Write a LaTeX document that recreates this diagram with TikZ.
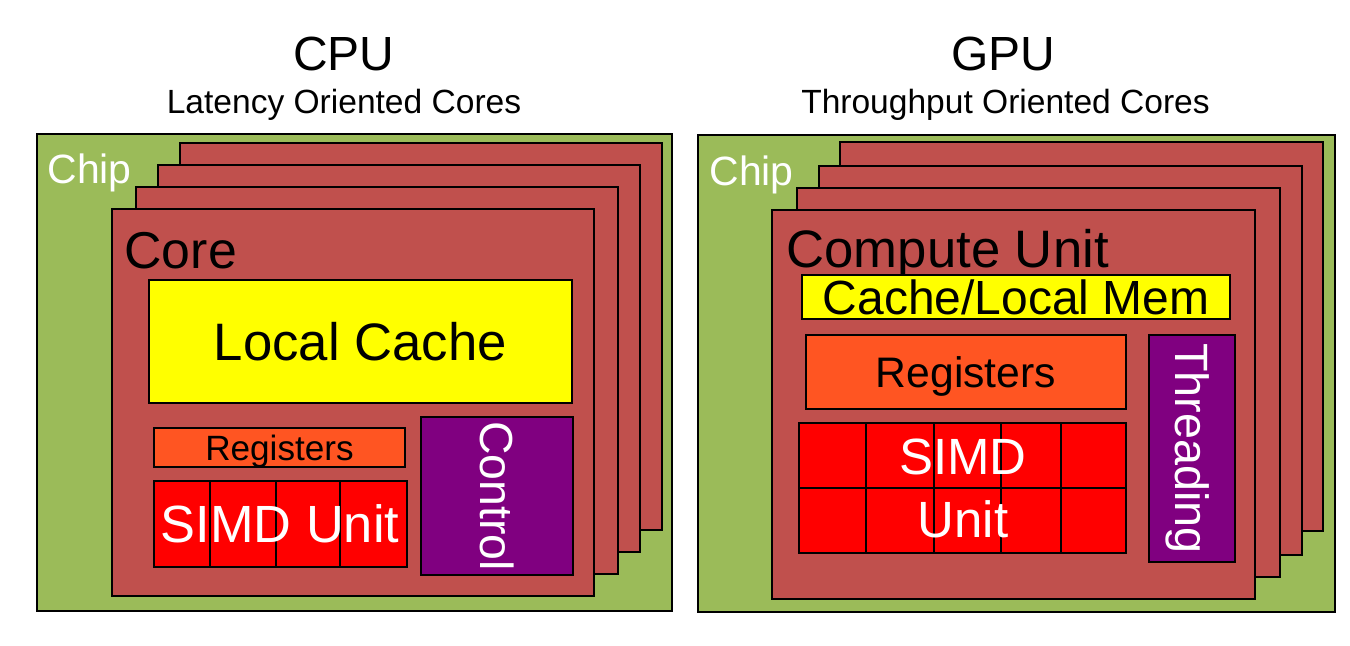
\documentclass[tikz,border=0pt]{standalone}
\usepackage{fontspec}
\setmainfont{Liberation Sans}
\definecolor{chipgreen}{RGB}{155,187,89}
\definecolor{corered}{RGB}{192,80,77}
\definecolor{cacheyellow}{RGB}{255,255,0}
\definecolor{regorange}{RGB}{255,85,34}
\definecolor{ctrlpurple}{RGB}{128,0,128}
\begin{document}
\begin{tikzpicture}[x=0.02cm, y=-0.02cm, line width=0.6pt,
    chip/.style={draw, fill=chipgreen},
    core/.style={draw, fill=corered},
    cache/.style={draw, fill=cacheyellow},
    regs/.style={draw, fill=regorange},
    simd/.style={draw, fill=red},
    ctrl/.style={draw, fill=ctrlpurple},
    lbl/.style={inner sep=0pt, text depth=0pt},
    fs/.style={font=\fontsize{#1}{#1}\selectfont}]
    \useasboundingbox (0,0) rectangle (1350,646);

    \node[lbl, fs=27.3, anchor=base] (cputitle) at (344,70) {CPU};
    \node[lbl, fs=19.1, anchor=base] (cpusub) at (344,113) {Latency Oriented Cores};
    \draw[chip] (37,134) rectangle (672,611);
    \node[lbl, fs=23.3, anchor=base west, text=white] (cpuchip) at (47,183) {Chip};
    \foreach \dx/\dy in {68/-66, 46/-44, 24/-22}
        \draw[core] (112+\dx,209+\dy) rectangle (594+\dx,596+\dy);
    \draw[core] (112,209) rectangle (594,596);
    \node[lbl, fs=29.5, anchor=base west] (core) at (124,268) {Core};
    \draw[cache] (149,280) rectangle (572,403) node[lbl, midway, fs=30] (lcache) {Local Cache};
    \draw[regs] (154,428) rectangle (405,467) node[lbl, midway, fs=20] (cpuregs) {Registers};
    \draw[simd] (154,481) rectangle (407,567);
    \foreach \x in {210,276,340}
        \draw (\x,481) -- (\x,567);
    \node[lbl, fs=29.8, text=white] (cpusimd) at (280,524) {SIMD Unit};
    \draw[ctrl] (421,417) rectangle (573,575) node[lbl, midway, rotate=-90, fs=26.4, text=white] (control) {Control};

    \node[lbl, fs=27.3, anchor=base] (gputitle) at (1003,70) {GPU};
    \node[lbl, fs=19.1, anchor=base] (gpusub) at (1005.5,113) {Throughput Oriented Cores};
    \draw[chip] (698,135) rectangle (1335,612);
    \node[lbl, fs=23.3, anchor=base west, text=white] (gpuchip) at (709,185) {Chip};
    \foreach \dx/\dy in {68/-68, 47/-44, 25/-22}
        \draw[core] (772+\dx,210+\dy) rectangle (1255+\dx,599+\dy);
    \draw[core] (772,210) rectangle (1255,599);
    \node[lbl, fs=30, anchor=base west] (cu) at (786,267) {Compute Unit};
    \draw[cache] (802,275) rectangle (1230,319) node[lbl, midway, fs=27.3] (lmem) {Cache/Local Mem};
    \draw[regs] (806,335) rectangle (1126,409) node[lbl, midway, fs=24.3] (gpuregs) {Registers};
    \draw[simd] (799,423) rectangle (1126,553);
    \foreach \x in {866,934,1001,1061}
        \draw (\x,423) -- (\x,553);
    \draw (799,488) -- (1126,488);
    \node[lbl, align=center, font=\fontsize{29}{35.7}\selectfont, text=white] (gpusimd) at (963,488) {SIMD\\Unit};
    \draw[ctrl] (1149,335) rectangle (1235,562) node[lbl, midway, rotate=-90, fs=26.6, text=white] (threading) {Threading};
\end{tikzpicture}
\end{document}
